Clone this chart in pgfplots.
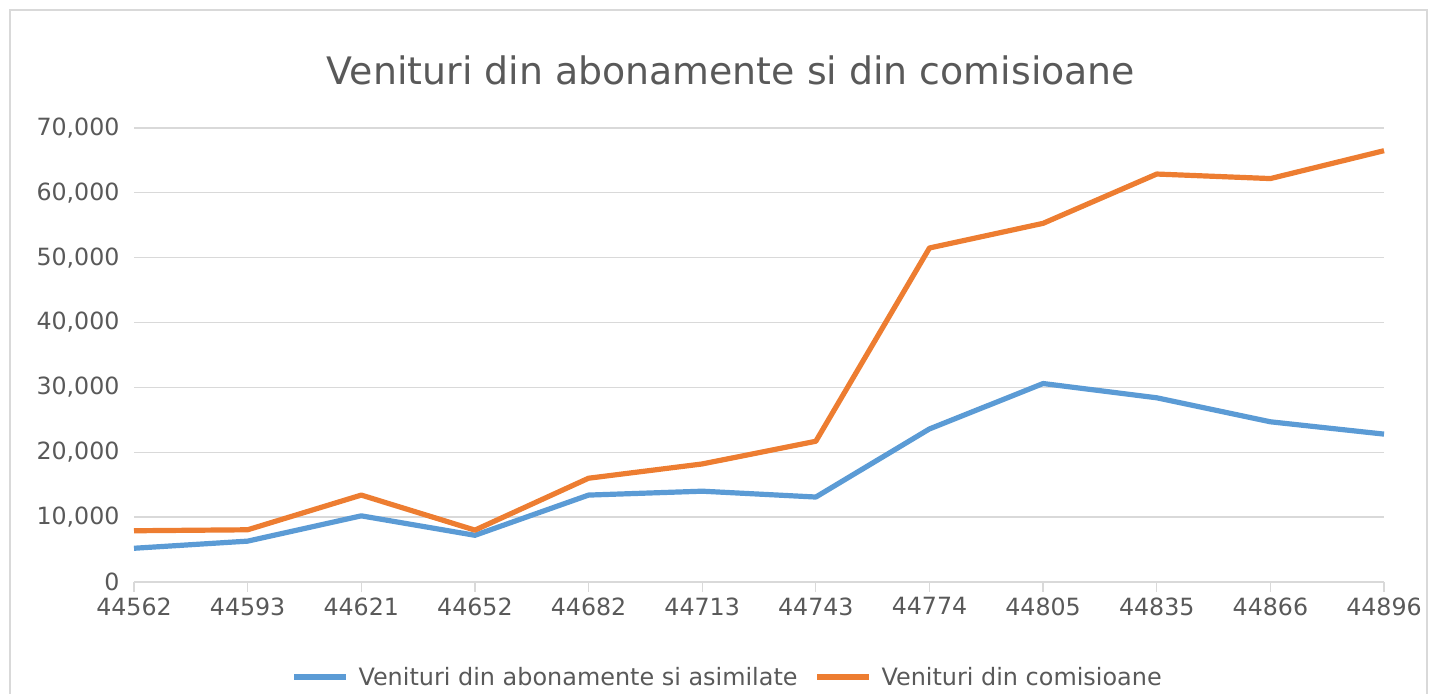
\documentclass[border=0pt]{standalone}
\usepackage{pgfplots}
\pgfplotsset{compat=1.18}
\usepackage{fontspec}
\setmainfont{DejaVu Sans}
\definecolor{txt}{HTML}{595959}
\definecolor{grd}{HTML}{D9D9D9}
\definecolor{sblue}{HTML}{5B9BD5}
\definecolor{sorange}{HTML}{ED7D31}
\begin{document}
\begin{tikzpicture}[x=1bp,y=1bp]
\path[use as bounding box] (0,0) rectangle (1430,694);
\draw[grd,line width=1.5bp] (10,-5) -- (10,684) -- (1427,684) -- (1427,-5);
\node[txt,font=\fontsize{38}{44}\selectfont] at (731,624) {Venituri din abonamente si din comisioane};
\begin{axis}[
  at={(134bp,112bp)}, anchor=origin,
  scale only axis, width=1250bp, height=454bp,
  xmin=0, xmax=11, ymin=0, ymax=70000,
  xtick={0,...,11},
  xticklabels={44562,44593,44621,44652,44682,44713,44743,44774,44805,44835,44866,44896},
  ytick={0,10000,...,70000},
  /pgf/number format/assume math mode=true,
  yticklabel style={/pgf/number format/1000 sep={,}},
  scaled y ticks=false,
  ymajorgrids, grid style={grd,line width=1.3bp},
  axis x line*=bottom, axis y line*=left,
  x axis line style={grd,line width=1.3bp,-},
  y axis line style={draw=none},
  xtick style={grd,line width=1.3bp},
  tick align=outside,
  major tick length=10bp,
  ytick style={draw=none},
  tick label style={txt,font=\fontsize{23.8}{28}\selectfont},
  xticklabel style={yshift=-2bp},
  yticklabel style={xshift=-1bp},
  clip=false,
]
\addplot[sblue,line width=5.2bp,line join=round] coordinates {
(0,5200) (1,6300) (2,10200) (3,7200) (4,13400) (5,14000) (6,13100) (7,23600) (8,30600) (9,28400) (10,24700) (11,22800)};
\addplot[sorange,line width=5.2bp,line join=round] coordinates {
(0,7900) (1,8050) (2,13400) (3,8000) (4,16000) (5,18200) (6,21700) (7,51500) (8,55300) (9,62900) (10,62200) (11,66500)};
\end{axis}
\draw[sblue,line width=5.2bp] (294,17) -- (346,17);
\node[txt,font=\fontsize{24}{28}\selectfont,anchor=west] at (355,17) {Venituri din abonamente si asimilate};
\draw[sorange,line width=5.2bp] (817,17) -- (869,17);
\node[txt,font=\fontsize{24}{28}\selectfont,anchor=west] at (878,17) {Venituri din comisioane};
\end{tikzpicture}
\end{document}
